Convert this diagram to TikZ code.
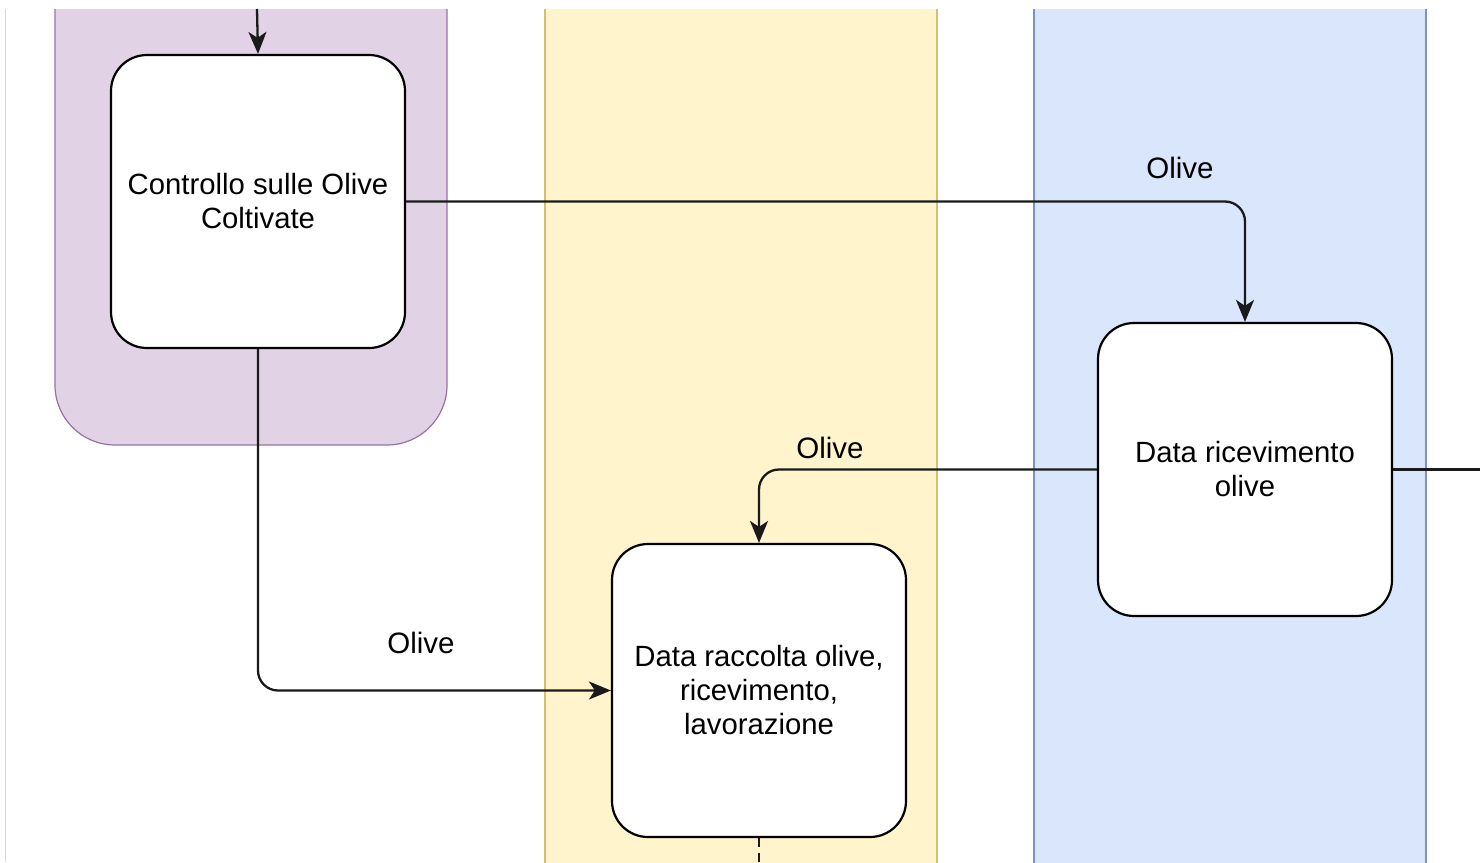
\documentclass[tikz,border=0pt]{standalone}
\usepackage{fontspec}
\setmainfont{Liberation Sans}
\usetikzlibrary{arrows.meta}

\definecolor{lanePurpleFill}{HTML}{E1D2E6}
\definecolor{lanePurpleLine}{HTML}{9673A6}
\definecolor{laneYellowFill}{HTML}{FFF4CB}
\definecolor{laneYellowLine}{HTML}{D6C070}
\definecolor{laneBlueFill}{HTML}{D9E6FB}
\definecolor{laneBlueLine}{HTML}{7A92C4}
\definecolor{edgeGrey}{HTML}{1A1A1A}

\tikzset{
  procbox/.style={draw=black, fill=white, line width=2.2pt, rounded corners=36pt,
    minimum width=294pt, minimum height=293pt, align=center,
    font=\fontsize{29.3}{34}\selectfont, inner sep=0pt},
  flow/.style={draw=edgeGrey, line width=2.3pt, rounded corners=20pt,
    -{Stealth[length=22pt,width=18pt,inset=6pt]}},
  flowlabel/.style={font=\fontsize{29.5}{34}\selectfont, inner sep=0pt},
}

\begin{document}
\begin{tikzpicture}[x=1pt,y=-1pt]
  \useasboundingbox (0,0) rectangle (1480,862);
  \fill[white] (0,0) rectangle (1480,862);

  % lanes, cut off at the visible area
  \begin{scope}
    \clip (0,9) rectangle (1480,862);
    \draw[fill=lanePurpleFill, draw=lanePurpleLine, line width=1.2pt, rounded corners=60pt]
      (55,-80) rectangle (447,445);
    \draw[fill=laneYellowFill, draw=laneYellowLine, line width=1.2pt]
      (545,-20) rectangle (937,900);
    \draw[fill=laneBlueFill, draw=laneBlueLine, line width=1.2pt]
      (1034,-20) rectangle (1426,900);
  \end{scope}
  \draw[black!15, line width=1pt] (5,9) -- (5,862);

  % process boxes
  \node[procbox] (ctrl) at (258,201.5) {Controllo sulle Olive\\Coltivate};
  \node[procbox] (ricev) at (1245,469.5) {Data ricevimento\\olive};
  \node[procbox] (racc) at (759,690.5) {Data raccolta olive,\\ricevimento,\\lavorazione};

  % loose ends
  \coordinate (topIn) at (257,9);
  \coordinate (rightOut) at (1480,469.5);
  \coordinate (bottomOut) at (759,862);

  % connectors
  \draw[flow] (topIn) -- (ctrl.north);
  \draw[flow] (ctrl.east) -- (ricev.north |- ctrl.east) -- (ricev.north);
  \draw[flow] (ricev.west) -- (racc.north |- ricev.west) -- (racc.north);
  \draw[flow] (ctrl.south) -- (ctrl.south |- racc.west) -- (racc.west);
  \draw[draw=edgeGrey, line width=2.3pt] (ricev.east) -- (rightOut);
  \draw[draw=edgeGrey, line width=2.3pt, dash pattern=on 9pt off 6pt] (racc.south) -- (bottomOut);

  % labels
  \node[flowlabel] (l1) at (1180,168) {Olive};
  \node[flowlabel] (l2) at (830,448) {Olive};
  \node[flowlabel] (l3) at (421,643) {Olive};
\end{tikzpicture}
\end{document}
